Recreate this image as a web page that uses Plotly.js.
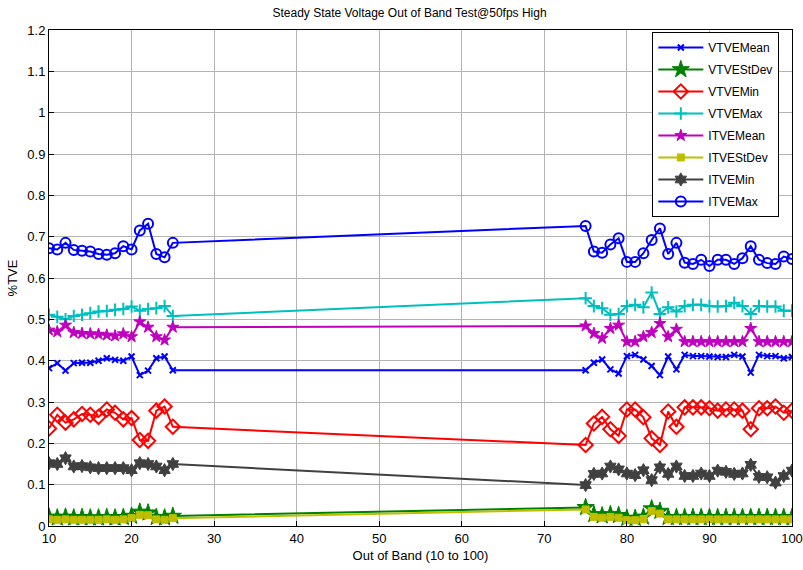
<!DOCTYPE html>
<html>
<head>
<meta charset="utf-8">
<script src="https://cdn.plot.ly/plotly-3.0.1.min.js"></script>
<style>html,body{margin:0;padding:0;background:#fff;}#chart{width:803px;height:570px;}</style>
</head>
<body>
<div id="chart"></div>
<script>
// Out-of-band frequencies
const xBand = [10,11,12,13,14,15,16,17,18,19,20,21,22,23,24,25,
  75,76,77,78,79,80,81,82,83,84,85,86,87,88,89,90,91,92,93,94,95,96,97,98,99,100];

const vtveMean = [0.382,0.394,0.376,0.394,0.395,0.395,0.400,0.406,0.402,0.400,0.410,0.365,0.376,0.406,0.410,0.377,
  0.377,0.395,0.403,0.379,0.369,0.411,0.414,0.403,0.387,0.365,0.410,0.379,0.414,0.411,0.411,0.410,0.409,0.409,0.414,0.410,0.371,0.414,0.411,0.411,0.406,0.409];
const vtveStDev = [0.022,0.020,0.022,0.020,0.021,0.020,0.020,0.021,0.020,0.021,0.024,0.034,0.032,0.021,0.020,0.024,
  0.045,0.028,0.025,0.028,0.026,0.019,0.019,0.022,0.042,0.036,0.021,0.021,0.021,0.021,0.021,0.021,0.021,0.021,0.021,0.021,0.021,0.021,0.021,0.021,0.021,0.021];
const vtveMin = [0.236,0.269,0.250,0.258,0.271,0.269,0.264,0.282,0.274,0.258,0.261,0.208,0.206,0.279,0.289,0.240,
  0.196,0.248,0.264,0.234,0.218,0.282,0.282,0.263,0.212,0.196,0.277,0.240,0.287,0.287,0.287,0.285,0.279,0.282,0.282,0.279,0.234,0.285,0.285,0.289,0.274,0.279];
const vtveMax = [0.511,0.506,0.500,0.508,0.511,0.515,0.519,0.520,0.523,0.525,0.531,0.521,0.525,0.527,0.532,0.508,
  0.551,0.532,0.527,0.511,0.513,0.532,0.535,0.529,0.565,0.513,0.529,0.519,0.532,0.535,0.535,0.532,0.531,0.532,0.540,0.532,0.513,0.532,0.531,0.531,0.521,0.521];
const itveMean = [0.474,0.470,0.486,0.468,0.466,0.465,0.464,0.462,0.460,0.465,0.458,0.494,0.481,0.458,0.450,0.481,
  0.484,0.466,0.454,0.478,0.486,0.446,0.446,0.458,0.468,0.490,0.458,0.476,0.446,0.446,0.446,0.446,0.446,0.446,0.446,0.446,0.478,0.446,0.446,0.446,0.446,0.446];
const itveStDev = [0.016,0.015,0.016,0.015,0.015,0.015,0.015,0.016,0.015,0.016,0.019,0.027,0.026,0.016,0.015,0.019,
  0.040,0.022,0.020,0.022,0.020,0.014,0.014,0.017,0.036,0.030,0.016,0.016,0.016,0.016,0.016,0.016,0.016,0.016,0.016,0.016,0.016,0.016,0.016,0.016,0.016,0.016];
const itveMin = [0.152,0.150,0.164,0.144,0.145,0.142,0.140,0.140,0.140,0.140,0.135,0.152,0.150,0.144,0.135,0.150,
  0.099,0.126,0.127,0.144,0.137,0.127,0.123,0.135,0.111,0.142,0.126,0.144,0.121,0.121,0.127,0.121,0.134,0.131,0.126,0.127,0.148,0.119,0.118,0.105,0.121,0.134];
const itveMax = [0.672,0.669,0.685,0.668,0.666,0.664,0.658,0.656,0.660,0.677,0.669,0.715,0.731,0.658,0.650,0.685,
  0.726,0.664,0.661,0.681,0.696,0.639,0.639,0.660,0.692,0.720,0.658,0.685,0.637,0.634,0.644,0.629,0.644,0.644,0.634,0.648,0.677,0.644,0.636,0.634,0.652,0.646];

const xTicks = [10,20,30,40,50,60,70,80,90,100];
const yTicks = [0,0.1,0.2,0.3,0.4,0.5,0.6,0.7,0.8,0.9,1,1.1,1.2];
const yTickText = ['0','0.1','0.2','0.3','0.4','0.5','0.6','0.7','0.8','0.9','1','1.1','1.2'];

function tr(name, y, color, symbol, size, mlw, fill) {
  return {
    x: xBand, y: y, name: name, type: 'scatter', mode: 'lines+markers', legendgroup: name,
    line: {color: color, width: 2},
    marker: {symbol: symbol, size: size, color: fill || color, line: {color: color, width: mlw}}
  };
}

const data = [
  tr('VTVEMean', vtveMean, '#0000FF', 'x-thin-open', 6, 2),
  tr('VTVEStDev', vtveStDev, '#008000', 'star', 13, 1),
  tr('VTVEMin', vtveMin, '#FF0000', 'diamond-open', 11, 2),
  tr('VTVEMax', vtveMax, '#00BFBF', 'cross-thin-open', 9, 2),
  tr('ITVEMean', itveMean, '#BF00BF', 'star', 9, 1),
  tr('ITVEStDev', itveStDev, '#BFBF00', 'square', 7, 1),
  tr('ITVEMin', itveMin, '#404040', 'hexagram', 10, 1),
  tr('ITVEMax', itveMax, '#0000FF', 'circle-open', 10, 2)
];

const axisCommon = {
  showline: true, mirror: true, linecolor: '#000', linewidth: 1,
  ticks: 'inside', ticklen: 5, tickcolor: '#000',
  showgrid: true, gridcolor: '#b4b4b4', gridwidth: 1, zeroline: false,
  tickfont: {family: 'Liberation Sans, Arial, sans-serif', size: 13, color: '#000'}
};

const layout = {
  width: 803, height: 570,
  margin: {l: 49, r: 11, t: 30, b: 44},
  paper_bgcolor: '#fff', plot_bgcolor: '#fff',
  title: {text: 'Steady State Voltage Out of Band Test@50fps High', x: 0.51, xanchor: 'center', y: 0.977, yanchor: 'middle',
    font: {family: 'Liberation Sans, Arial, sans-serif', size: 12, color: '#000'}},
  xaxis: Object.assign({}, axisCommon, {
    range: [10, 100], tickvals: xTicks, ticktext: xTicks.map(String),
    title: {text: 'Out of Band (10 to 100)', standoff: 6, font: {family: 'Liberation Sans, Arial, sans-serif', size: 13, color: '#000'}}
  }),
  yaxis: Object.assign({}, axisCommon, {
    range: [0, 1.2], tickvals: yTicks, ticktext: yTickText,
    title: {text: '%TVE', standoff: 6, font: {family: 'Liberation Sans, Arial, sans-serif', size: 13, color: '#000'}}
  }),
  showlegend: true,
  legend: {
    x: 0.812, y: 0.996, xanchor: 'left', yanchor: 'top',
    bgcolor: '#fff', bordercolor: '#000', borderwidth: 1,
    font: {family: 'Liberation Sans, Arial, sans-serif', size: 12, color: '#000'},
    itemwidth: 45,
    tracegroupgap: 3
  }
};

Plotly.newPlot('chart', data, layout, {displayModeBar: false, staticPlot: true});
</script>
</body>
</html>
